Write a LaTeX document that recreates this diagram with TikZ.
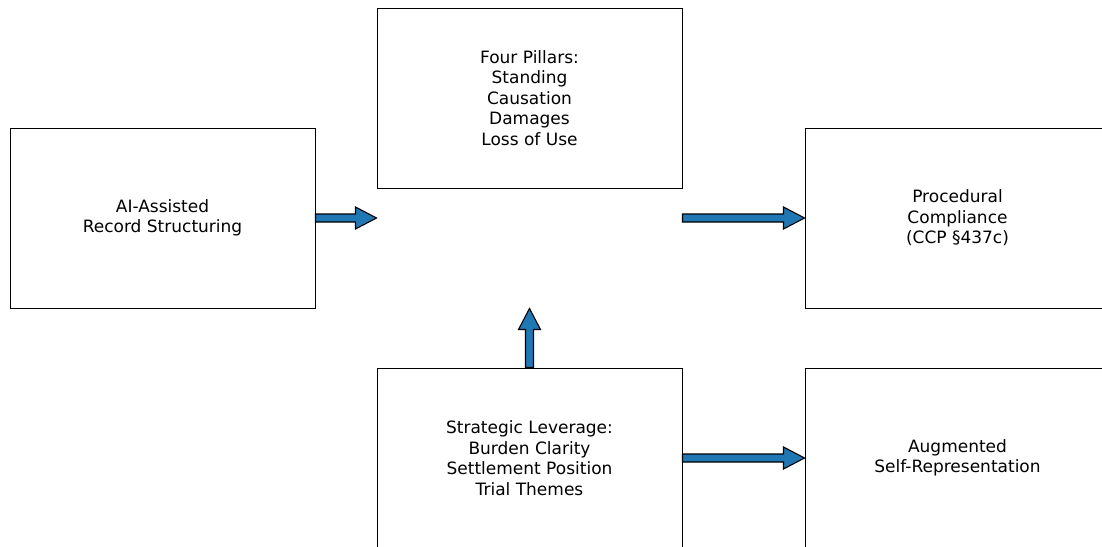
\documentclass[tikz,border=0pt]{standalone}
\usepackage{fontspec}
\setmainfont{DejaVu Sans}
\usepackage{xcolor}
\usepackage{tikz}
\usetikzlibrary{positioning}
\usetikzlibrary{calc}

\definecolor{arrowblue}{HTML}{1F77B4}

\tikzset{
    box/.style={draw, line width=1pt, minimum width=305pt, minimum height=180pt,
        align=center, font=\fontsize{17pt}{20.5pt}\selectfont, inner sep=0pt},
    fatarrow/.style={draw=black, fill=arrowblue, line width=1.1pt, line join=miter}
}

% fat block arrow from #1 to #2
\newcommand{\fatarrow}[2]{%
    \draw[fatarrow] let \p1=(#1), \p2=(#2),
        \n1={atan2(\y2-\y1,\x2-\x1)}, \n2={veclen(\x2-\x1,\y2-\y1)} in
        [shift={(\p1)}, rotate=\n1]
        (0pt,-4pt) -- ({\n2-21pt},-4pt) -- ({\n2-21pt},-11pt) -- (\n2,0pt)
        -- ({\n2-21pt},11pt) -- ({\n2-21pt},4pt) -- (0pt,4pt) -- cycle;
}

\begin{document}
\begin{tikzpicture}[x=1pt, y=-1pt]
    \useasboundingbox (0,0) rectangle (1102,546);
    \clip (0,0) rectangle (1102,546);

    \node[box] (record) at (162.5,218) {AI-Assisted\\Record Structuring};
    \node[box] (pillars) at (529.5,98) {Four Pillars:\\Standing\\Causation\\Damages\\Loss of Use};
    \node[box] (compliance) at (957.5,218) {Procedural\\Compliance\\(CCP §437c)};
    \node[box] (leverage) at (529.5,458) {Strategic Leverage:\\Burden Clarity\\Settlement Position\\Trial Themes};
    \node[box] (augmented) at (957.5,458) {Augmented\\Self-Representation};

    \fatarrow{record.east}{record.east -| pillars.west}
    \fatarrow{pillars.east |- compliance.west}{compliance.west}
    \fatarrow{leverage.north}{leverage.north |- record.south}
    \fatarrow{leverage.east}{augmented.west}
\end{tikzpicture}
\end{document}
